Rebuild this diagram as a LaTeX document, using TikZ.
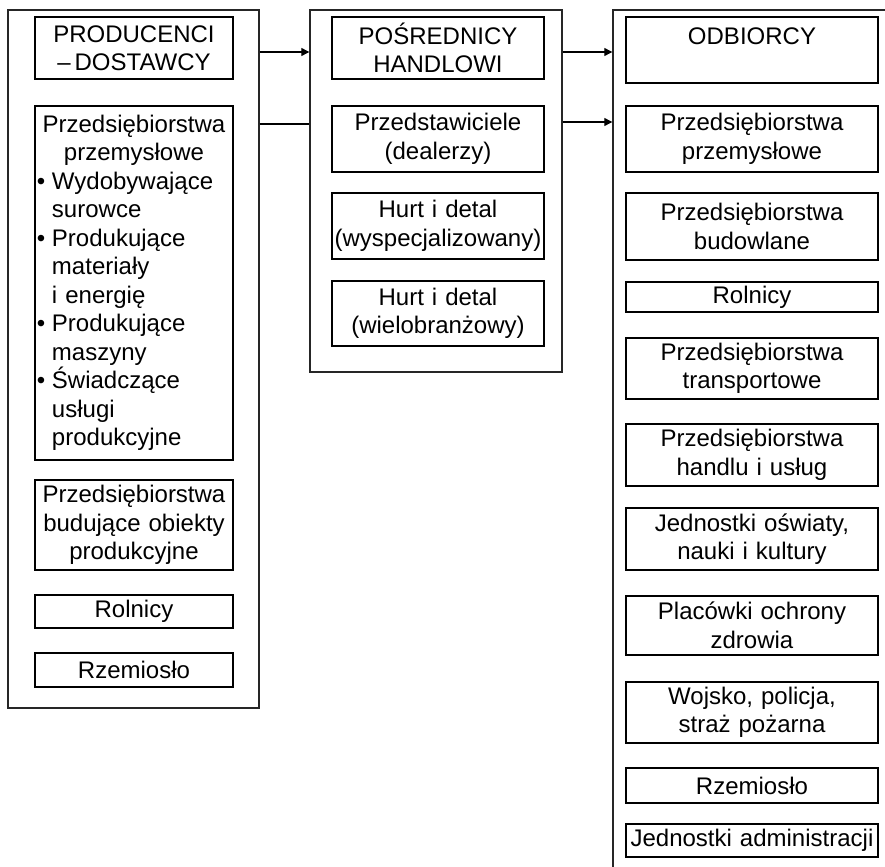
\documentclass[tikz,border=0pt]{standalone}
\usepackage{fontspec}
\setmainfont{Liberation Sans}
\usetikzlibrary{arrows.meta}

\newcommand{\pkt}[1]{\makebox[99pt][l]{\hspace{1pt}\makebox[7.5pt][l]{\textbullet}#1}}
\newcommand{\dal}[1]{\makebox[99pt][l]{\hspace{8.5pt}#1}}

\begin{document}
\begin{tikzpicture}[x=0.5pt, y=-0.5pt,
    every node/.style = {draw, line width=0.7pt, inner sep=0pt, align=center,
                         font=\fontsize{12}{14.25}\selectfont},
    outerbox/.style   = {draw=black!85},
    lbox/.style       = {minimum width=99pt, text width=99pt},
    mbox/.style       = {minimum width=106pt, text width=106pt},
    rbox/.style       = {minimum width=126pt, text width=126pt},
    arr/.style        = {-{Triangle[length=4pt,width=4pt]}, line width=0.6pt}
    ]
      \useasboundingbox (0,0) rectangle (885,867);
      \clip (0,0) rectangle (885,867);

      % outer frames ---------------------------------------------
      \node[outerbox, minimum width=125.5pt, minimum height=349pt] (prodout) at (133.5,359) {};
      \node[outerbox, minimum width=126pt, minimum height=181pt]   (posout)  at (436,191)   {};
      \node[outerbox, minimum width=150pt, minimum height=450pt]   (odbout)  at (763,460)   {};

      % producenci -----------------------------------------------
      \node[lbox, minimum height=31pt]  (prodtitle) at (134,48)   {PRODUCENCI\\ --\,DOSTAWCY};
      \node[lbox, minimum height=177pt] (przem)     at (134,283)  {Przedsiębiorstwa\\ przemysłowe\\
            \pkt{Wydobywające}\\ \dal{surowce}\\ \pkt{Produkujące}\\ \dal{materiały}\\
            \dal{i energię}\\ \pkt{Produkujące}\\ \dal{maszyny}\\ \pkt{Świadczące}\\
            \dal{usługi}\\ \dal{produkcyjne}};
      \node[lbox, minimum height=45pt]  (budob)     at (134,525)  {Przedsiębiorstwa\\ budujące obiekty\\ produkcyjne};
      \node[lbox, minimum height=16.5pt] (rolp)     at (134,611.5) {Rolnicy};
      \node[lbox, minimum height=17pt]  (rzemp)     at (134,670)  {Rzemiosło};

      % posrednicy -----------------------------------------------
      \node[mbox, minimum height=31pt]   (postitle) at (438,48)    {POŚREDNICY\\ HANDLOWI};
      \node[mbox, minimum height=33pt]   (przedst)  at (438,139)   {Przedstawiciele\\ (dealerzy)};
      \node[mbox, minimum height=33pt]   (hurta)    at (438,226)   {Hurt i detal\\ (wyspecjalizowany)};
      \node[mbox, minimum height=32.5pt] (hurtb)    at (438,313.5) {Hurt i detal\\ (wielobranżowy)};

      % odbiorcy -------------------------------------------------
      \node[rbox, minimum height=33pt]   (odbtitle) at (752,50)    {ODBIORCY\\ ~};
      \node[rbox, minimum height=33pt]   (oprzem)   at (752,139)   {Przedsiębiorstwa\\ przemysłowe};
      \node[rbox, minimum height=33.5pt] (obud)     at (752,226.5) {Przedsiębiorstwa\\ budowlane};
      \node[rbox, minimum height=15pt]   (orol)     at (752,297)   {Rolnicy};
      \node[rbox, minimum height=30.5pt] (otrans)   at (752,368.5) {Przedsiębiorstwa\\ transportowe};
      \node[rbox, minimum height=31pt]   (ohandl)   at (752,455)   {Przedsiębiorstwa\\ handlu i usług};
      \node[rbox, minimum height=31pt]   (oswiat)   at (752,539)   {Jednostki oświaty,\\ nauki i kultury};
      \node[rbox, minimum height=29.5pt] (ozdrow)   at (752,625.5) {Placówki ochrony\\ zdrowia};
      \node[rbox, minimum height=30.5pt] (owojsk)   at (752,712.5) {Wojsko, policja,\\ straż pożarna};
      \node[rbox, minimum height=17.5pt] (orzem)    at (752,785.5) {Rzemiosło};
      \node[rbox, minimum height=16.5pt] (oadmin)   at (752,840.5) {Jednostki administracji};

      % connectors -----------------------------------------------
      \coordinate (lvla) at (0,52);
      \coordinate (lvlb) at (0,124);
      \coordinate (lvlc) at (0,122);
      \draw[arr] (prodout.east |- lvla) -- (posout.west |- lvla);
      \draw[line width=1pt] (prodout.east |- lvlb) -- (posout.west |- lvlb);
      \draw[arr] (posout.east |- lvla) -- (odbout.west |- lvla);
      \draw[arr] (posout.east |- lvlc) -- (odbout.west |- lvlc);
\end{tikzpicture}
\end{document}
